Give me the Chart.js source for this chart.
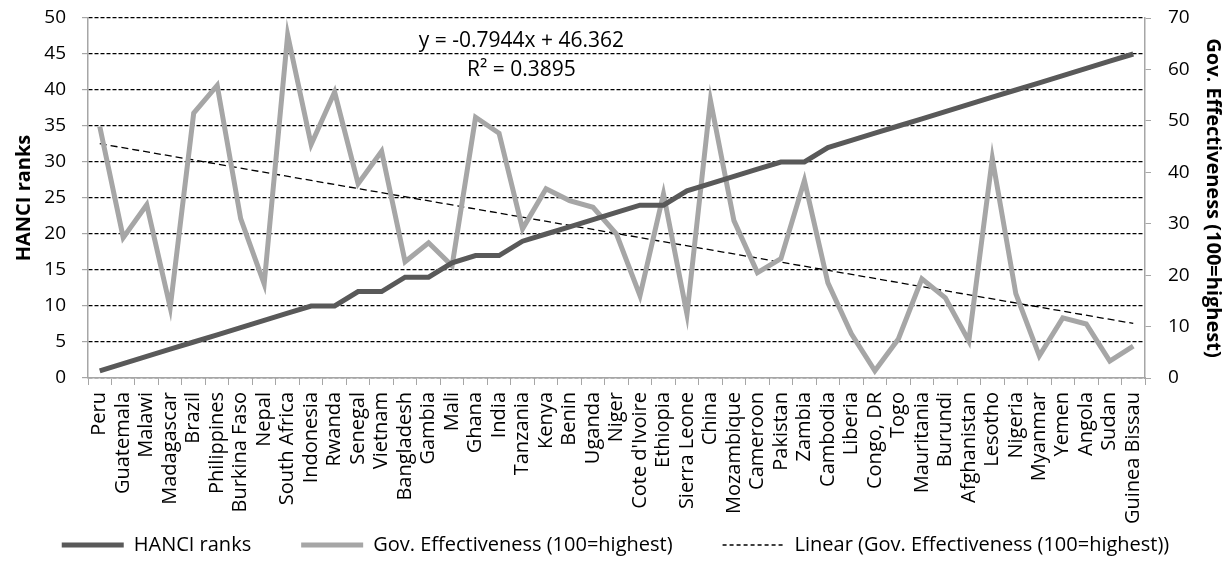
<!DOCTYPE html>
<html>
<head>
<meta charset="utf-8">
<script src="https://cdn.jsdelivr.net/npm/chart.js@4.4.1/dist/chart.umd.min.js"></script>
<style>
  html, body { margin: 0; padding: 0; background: #fff; }
  #wrap { width: 1231px; height: 565px; }
</style>
</head>
<body>
<div id="wrap"><canvas id="chart"></canvas></div>
<script>
// data
const countries = ['Peru', 'Guatemala', 'Malawi', 'Madagascar', 'Brazil', 'Philippines', 'Burkina Faso', 'Nepal',
  'South Africa', 'Indonesia', 'Rwanda', 'Senegal', 'Vietnam', 'Bangladesh', 'Gambia', 'Mali', 'Ghana', 'India',
  'Tanzania', 'Kenya', 'Benin', 'Uganda', 'Niger', "Cote d'Ivoire", 'Ethiopia', 'Sierra Leone', 'China',
  'Mozambique', 'Cameroon', 'Pakistan', 'Zambia', 'Cambodia', 'Liberia', 'Congo, DR', 'Togo', 'Mauritania',
  'Burundi', 'Afghanistan', 'Lesotho', 'Nigeria', 'Myanmar', 'Yemen', 'Angola', 'Sudan', 'Guinea Bissau'];

const hanciRanks = [1, 2, 3, 4, 5, 6, 7, 8, 9, 10, 10, 12, 12, 14, 14, 16, 17, 17, 19, 20, 21, 22, 23, 24, 24,
  26, 27, 28, 29, 30, 30, 32, 33, 34, 35, 36, 37, 38, 39, 40, 41, 42, 43, 44, 45];

const govEffectiveness = [48.9, 27.3, 33.7, 13.7, 51.5, 56.9, 31.0, 18.3, 66.7, 45.4, 55.6, 37.8, 44.1, 22.6,
  26.3, 21.8, 50.7, 47.6, 29.0, 36.8, 34.5, 33.2, 28.0, 16.0, 35.8, 12.4, 54.0, 30.6, 20.5, 23.2, 38.4, 18.5,
  8.6, 1.4, 7.6, 19.3, 15.6, 7.2, 42.7, 16.4, 4.3, 11.7, 10.5, 3.3, 6.2];

// trend line as printed on the chart
const trendSlope = -0.7944;
const trendIntercept = 46.362;
const trendLabel = ['y = -0.7944x + 46.362', 'R\u00b2 = 0.3895'];

const leftTicks = { min: 0, max: 50, step: 5 };
const rightTicks = { min: 0, max: 70, step: 10 };

// only the two ends are needed for a straight line
const trendValues = countries.map((c, i) =>
  (i === 0 || i === countries.length - 1) ? trendSlope * (i + 1) + trendIntercept : null);

const FONT = '"Open Sans", sans-serif';
Chart.defaults.font.family = FONT;
Chart.defaults.color = '#000';

// equation text
const eqText = {
  id: 'eqText',
  afterDatasetsDraw(chart) {
    const { ctx, chartArea: a } = chart;
    ctx.save();
    ctx.font = '21px ' + FONT;
    ctx.fillStyle = '#000';
    ctx.textAlign = 'center';
    ctx.textBaseline = 'middle';
    const cx = a.left + (a.right - a.left) * 0.41;
    ctx.fillText(trendLabel[0], cx, a.top + 23);
    ctx.fillText(trendLabel[1], cx, a.top + 52);
    ctx.restore();
  }
};

new Chart(document.getElementById('chart'), {
  type: 'line',
  data: {
    labels: countries,
    datasets: [
      {
        label: 'HANCI ranks',
        data: hanciRanks,
        yAxisID: 'y',
        borderColor: '#595959',
        backgroundColor: '#595959',
        borderWidth: 5,
        pointRadius: 0,
        tension: 0
      },
      {
        label: 'Gov. Effectiveness (100=highest)',
        data: govEffectiveness,
        yAxisID: 'y1',
        borderColor: '#A6A6A6',
        backgroundColor: '#A6A6A6',
        borderWidth: 5,
        pointRadius: 0,
        tension: 0
      },
      {
        label: 'Linear (Gov. Effectiveness (100=highest))',
        data: trendValues,
        yAxisID: 'y1',
        spanGaps: true,
        borderColor: '#000',
        backgroundColor: '#000',
        borderWidth: 1.3,
        borderDash: [7, 4],
        pointRadius: 0
      }
    ]
  },
  options: {
    responsive: true,
    maintainAspectRatio: false,
    animation: false,
    layout: { padding: { top: 18, left: 0, right: 0, bottom: 0 } },
    plugins: {
      legend: {
        position: 'bottom',
        labels: {
          usePointStyle: true,
          pointStyle: 'line',
          pointStyleWidth: 62,
          font: { size: 20 },
          color: '#000',
          padding: 10,
          generateLabels(chart) {
            const items = Chart.defaults.plugins.legend.labels.generateLabels(chart);
            items.forEach((it, i) => {
              const ds = chart.data.datasets[it.datasetIndex];
              it.lineDash = ds.borderDash ? [4, 3] : [];
              it.lineWidth = ds.borderWidth;
              // extra room between legend entries
              if (i < items.length - 1) it.text += '\u2003\u2003';
            });
            return items;
          }
        }
      },
      tooltip: { enabled: false }
    },
    scales: {
      x: {
        offset: true,
        afterFit(s) { s.height = 147; },
        grid: {
          offset: true,
          drawOnChartArea: false,
          tickLength: 7,
          color: '#A6A6A6'
        },
        border: { color: '#A6A6A6', width: 1.5 },
        ticks: {
          autoSkip: false,
          maxRotation: 90,
          minRotation: 90,
          font: { size: 20 },
          color: '#000',
          padding: 7
        }
      },
      y: {
        position: 'left',
        min: leftTicks.min,
        max: leftTicks.max,
        afterFit(s) { s.width = 88; s.paddingTop = 0; s.paddingBottom = 0; },
        ticks: { stepSize: leftTicks.step, font: { size: 19 }, color: '#000', padding: 16 },
        grid: {
          color: '#000',
          lineWidth: 1.2,
          tickColor: '#A6A6A6',
          tickLength: 6,
          tickBorderDash: []
        },
        border: { color: '#A6A6A6', width: 1.5, dash: [4, 2] },
        title: { display: true, text: 'HANCI ranks', font: { size: 20, weight: 'bold' }, color: '#000', padding: { top: 12, bottom: 0 } }
      },
      y1: {
        position: 'right',
        min: rightTicks.min,
        max: rightTicks.max,
        afterFit(s) { s.width = 86; s.paddingTop = 0; s.paddingBottom = 0; },
        ticks: { stepSize: rightTicks.step, font: { size: 19 }, color: '#000', padding: 17 },
        grid: { drawOnChartArea: false, color: '#A6A6A6', tickLength: 6 },
        border: { color: '#A6A6A6', width: 1.5 },
        title: { display: true, text: 'Gov. Effectiveness (100=highest)', font: { size: 20, weight: 'bold' }, color: '#000', padding: { top: 6, bottom: 0 } }
      }
    }
  },
  plugins: [eqText]
});
</script>
</body>
</html>
